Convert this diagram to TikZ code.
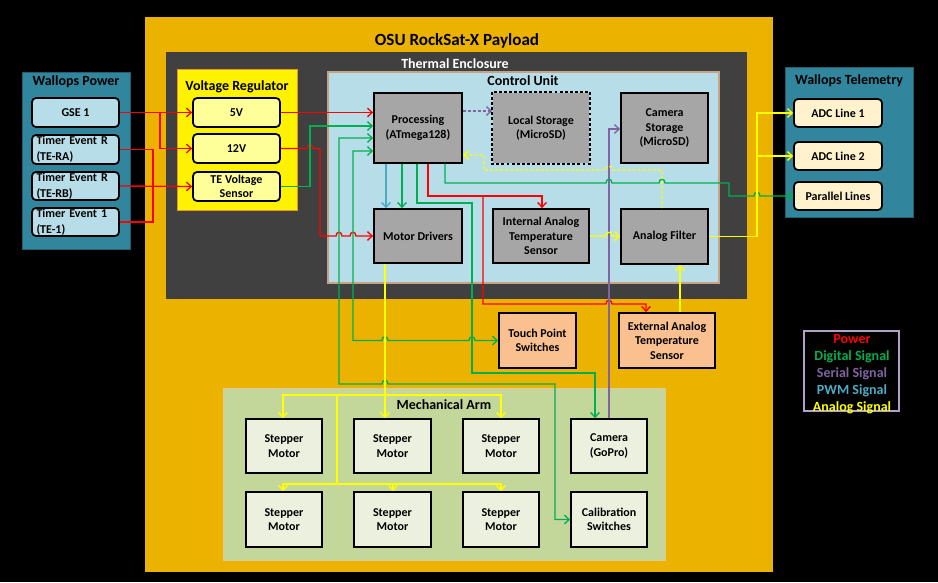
\documentclass[tikz,border=0pt]{standalone}
\usepackage{fontspec}
\setmainfont{Carlito}
\usetikzlibrary{arrows.meta}
\definecolor{payload}{RGB}{235,178,0}
\definecolor{thermal}{RGB}{64,64,64}
\definecolor{ctrl}{RGB}{183,222,232}
\definecolor{ctrlborder}{RGB}{196,164,132}
\definecolor{tealbox}{RGB}{49,133,156}
\definecolor{tealborder}{RGB}{33,95,112}
\definecolor{lblue}{RGB}{183,222,232}
\definecolor{lyel}{RGB}{255,255,153}
\definecolor{cream}{RGB}{255,242,204}
\definecolor{grayb}{RGB}{166,166,166}
\definecolor{salmon}{RGB}{250,192,144}
\definecolor{armfill}{RGB}{196,215,155}
\definecolor{armborder}{RGB}{230,200,150}
\definecolor{armbox}{RGB}{235,241,222}
\definecolor{pw}{RGB}{255,0,0}
\definecolor{dg}{RGB}{0,176,80}
\definecolor{sr}{RGB}{128,100,162}
\definecolor{pwmcol}{RGB}{75,172,198}
\definecolor{an}{RGB}{255,255,0}
\definecolor{legbd}{RGB}{179,162,199}
\definecolor{regborder}{RGB}{230,150,40}
\newcommand\mybox[7]{%
  \pgfmathsetmacro\mybw{(#4-#2)*0.75}%
  \pgfmathsetmacro\mybh{(#5-#3)*0.75}%
  \node[#6, minimum width=\mybw pt, minimum height=\mybh pt] (#1) at ({(#2+#4)/2},{(#3+#5)/2}) {#7};%
}
\newcommand\myhop[2]{-- (#1-3,#2) .. controls (#1-3,#2-5) and (#1+3,#2-5) .. (#1+3,#2)}
\begin{document}
\begin{tikzpicture}[x=0.75pt,y=-0.75pt,
  every node/.style={font=\bfseries\fontsize{9}{10.8}\selectfont},
  >={Straight Barb[length=3.5pt,width=6.5pt]},
  region/.style={inner sep=0pt},
  box/.style={draw=black,line width=1.3pt,align=center,inner sep=1pt},
  gbox/.style={box,fill=grayb},
  rbox/.style={box,rounded corners=3pt},
  tbox/.style={rbox,fill=lblue,align=left,text width=78*0.75pt,inner xsep=3pt,inner ysep=0pt,font=\bfseries\fontsize{9}{12}\selectfont},
  ttl/.style={font=\bfseries\fontsize{10.5}{12}\selectfont},
  wire/.style={line width=1pt},
  pwr/.style={wire,draw=pw},
  dig/.style={wire,draw=dg},
  ser/.style={wire,draw=sr},
  pwmc/.style={wire,draw=pwmcol},
  ana/.style={wire,draw=an},
  dsh/.style={dash pattern=on 2.2pt off 1.6pt}]
\useasboundingbox (0,0) rectangle (938,582);
\fill[black] (0,0) rectangle (938,582);

% regions
\mybox{payload}{145}{17}{773}{572}{region,fill=payload}{}
\mybox{thermal}{166}{52}{747}{299}{region,fill=thermal}{}
\mybox{control}{328}{72}{719}{283}{region,fill=ctrl,draw=ctrlborder,line width=1pt}{}
\mybox{vreg}{177}{69}{297}{210}{region,fill=yellow,draw=regborder,line width=0.6pt}{}
\mybox{wpow}{22}{72}{130}{249}{region,fill=tealbox,draw=tealborder,line width=0.6pt}{}
\mybox{wtel}{785}{67}{913}{217}{region,fill=tealbox,draw=tealborder,line width=0.6pt}{}
\mybox{arm}{223}{388}{665}{560}{region,fill=armfill,draw=armborder,line width=0.6pt}{}

% titles
\node[font=\bfseries\fontsize{12.8}{14}\selectfont] (tpay) at (457,41) {OSU RockSat-X Payload};
\node[ttl,text=white] (ttherm) at (455,64) {Thermal Enclosure};
\node[ttl] (tctrl) at (523,81) {Control Unit};
\node[ttl] (tvreg) at (237,87) {Voltage Regulator};
\node[ttl] (twpow) at (76,82) {Wallops Power};
\node[ttl] (twtel) at (849,81) {Wallops Telemetry};
\node[ttl] (tarm) at (444,405) {Mechanical Arm};

% Wallops power
\mybox{gse}{32}{98}{119}{127}{rbox,fill=lblue}{GSE 1}
\mybox{tera}{32}{135}{119}{164}{tbox}{Timer Event R\\(TE-RA)}
\mybox{terb}{32}{172}{119}{200}{tbox}{Timer Event R\\(TE-RB)}
\mybox{teone}{32}{208}{119}{236}{tbox}{Timer Event 1\\(TE-1)}

% Voltage regulator
\mybox{vfive}{193}{98}{280}{127}{rbox,fill=lyel}{5V}
\mybox{vtwelve}{193}{134}{280}{163}{rbox,fill=lyel}{12V}
\mybox{tes}{193}{172}{280}{201}{rbox,fill=lyel,inner ysep=0pt}{TE Voltage\\Sensor}

% Telemetry
\mybox{adca}{794}{99}{882}{127}{rbox,fill=cream}{ADC Line 1}
\mybox{adcb}{794}{142}{882}{170}{rbox,fill=cream}{ADC Line 2}
\mybox{par}{794}{182}{882}{210}{rbox,fill=cream}{Parallel Lines}

% Control unit
\mybox{proc}{374}{93}{462}{163}{gbox}{Processing\\(ATmega128)}
\mybox{lst}{493}{93}{589}{163}{gbox,draw=none}{Local Storage\\(MicroSD)}
\draw[line width=1.3pt,dsh] (lst.north west) rectangle (lst.south east);
\mybox{cst}{621}{93}{708}{163}{gbox}{Camera\\Storage\\(MicroSD)}
\mybox{md}{374}{209}{462}{263}{gbox}{Motor Drivers}
\mybox{iat}{493}{209}{589}{263}{gbox}{Internal Analog\\Temperature\\Sensor}
\mybox{af}{621}{209}{708}{264}{gbox}{Analog Filter}

% outside sensors
\mybox{tps}{499}{313}{576}{368}{box,fill=salmon}{Touch Point\\Switches}
\mybox{eat}{619}{313}{715}{368}{box,fill=salmon}{External Analog\\Temperature\\Sensor}

% Mechanical arm
\mybox{sa}{246}{419}{322}{473}{box,fill=armbox}{Stepper\\Motor}
\mybox{sb}{354}{419}{431}{473}{box,fill=armbox}{Stepper\\Motor}
\mybox{sc}{463}{419}{539}{473}{box,fill=armbox}{Stepper\\Motor}
\mybox{cam}{571}{419}{647}{473}{box,fill=armbox}{Camera\\(GoPro)}
\mybox{sd}{246}{492}{322}{547}{box,fill=armbox}{Stepper\\Motor}
\mybox{se}{354}{492}{431}{547}{box,fill=armbox}{Stepper\\Motor}
\mybox{sf}{463}{492}{539}{547}{box,fill=armbox}{Stepper\\Motor}
\mybox{cal}{571}{492}{647}{547}{box,fill=armbox}{Calibration\\Switches}

% legend
\mybox{legend}{804}{331}{899}{411}{region,draw=legbd,line width=1pt}{}
\node[align=center,inner sep=0pt,font=\bfseries\fontsize{10.5}{12.75}\selectfont] (legendtext) at (852,374)
 {\textcolor{pw}{Power}\\\textcolor{dg}{Digital Signal}\\\textcolor{sr}{Serial Signal}\\\textcolor{pwmcol}{PWM Signal}\\\textcolor{an}{Analog Signal}};

% ---- power wires
\draw[pwr,->] (gse.east) -- (vfive.west);
\draw[pwr,->] (gse.east -| 160,0) |- (vtwelve.west);
\draw[pwr] (tera.east) -- (tera.east -| 153,0) -- (teone.east -| 153,0) -- (teone.east);
\draw[pwr,->] (terb.east) -- (tes.west);
\draw[pwr,->] (vfive.east) -- (proc.west |- vfive.east);
\draw[pwr,->] (vtwelve.east) \myhop{310}{148.5} -- (320,148.5) -- (320,236) \myhop{339}{236} \myhop{353}{236} -- (md.west);
\draw[pwr,->] (proc.south -| 428,0) -- (428,196) -- (542,196) -- (iat.north -| 542,0);
\draw[pwr,->] (483,196) -- (483,304) \myhop{609}{304} -- (646,304) -- (eat.north -| 646,0);

% ---- serial
\draw[ser,->] (cam.north -| 609,0) -- (609,129) -- (cst.west |- 0,129);
\draw[ser,dsh,->] (proc.east |- 0,111) -- (lst.west |- 0,111);

% ---- pwm
\draw[pwmc,->] (proc.south -| 386,0) -- (md.north -| 386,0);

% ---- digital
\draw[dig,->] (tes.east) -- (310,186.5) -- (310,126) -- (proc.west |- 0,126);
\draw[dig,<->] (proc.west |- 0,138) -- (339,138) -- (339,384) \myhop{385}{384} -- (555,384) |- (cal.west);
\draw[dig,<->] (proc.west |- 0,151) -- (353,151) -- (353,340.5) \myhop{385}{340.5} \myhop{472}{340.5} -- (tps.west);
\draw[dig,->] (proc.south -| 417,0) -- (417,203) -- (472,203) -- (472,373) -- (595,373) -- (cam.north -| 595,0);
\draw[dig,->] (proc.south -| 402,0) -- (md.north -| 402,0);
\draw[dig,->] (proc.south -| 445,0) -- (445,183) \myhop{609}{183} \myhop{662}{183} -- (729,183) -- (729,196) \myhop{757}{196} -- (par.west);

% ---- analog
\draw[ana,->] (iat.east) \myhop{609}{236} -- (af.west);
\draw[ana,->] (eat.north -| 680,0) -- (af.south -| 680,0);
\draw[ana,->] (af.east) -- (757,236.5) -- (757,113) -- (adca.west);
\draw[ana,->] (757,156) -- (adcb.west);
\draw[ana,dsh,<-] (proc.east |- 0,155) -- (484,155) -- (484,170) \myhop{609}{170} -- (662,170) -- (af.north -| 662,0);
\draw[ana,->] (md.south -| 385,0) -- (sb.north -| 385,0);
\draw[ana,<->] (sa.north -| 283,0) -- (283,395) -- (501,395) -- (sc.north -| 501,0);
\draw[ana] (337,395) -- (337,484);
\draw[ana,<->] (sd.north -| 283,0) -- (283,484) -- (501,484) -- (sf.north -| 501,0);
\draw[ana,->] (393,484) -- (se.north -| 393,0);
\end{tikzpicture}
\end{document}
